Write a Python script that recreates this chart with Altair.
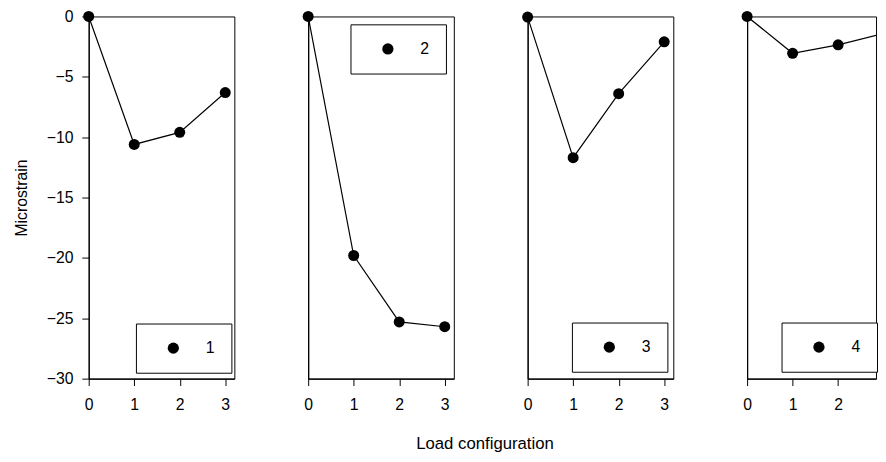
import altair as alt
import pandas as pd

load_config = [0, 1, 2, 3]
series_names = ["1", "2", "3", "4"]
strain_1 = [0.0, -10.6, -9.6, -6.3]
strain_2 = [0.0, -19.8, -25.3, -25.7]
strain_3 = [-0.05, -11.7, -6.4, -2.1]
strain_4 = [0.0, -3.05, -2.35, -1.4]
all_series = [strain_1, strain_2, strain_3, strain_4]
y_ticks = [-30, -25, -20, -15, -10, -5, 0]
x_ticks_full = [0, 1, 2, 3]
x_ticks_cut = [0, 1, 2]

# panel geometry (panel 4 is cut by the page edge in the original)
panel_widths = [148, 148, 148, 131]
x_max = [3.2, 3.2, 3.2, 3.2 * 131 / 148]
legend_xy = [(48, 312), (43, 8), (45, 311), (35, 311)]

FONT = "Liberation Sans"

panels = []
for i, (name, vals) in enumerate(zip(series_names, all_series)):
    df = pd.DataFrame({"x": load_config, "y": vals, "series": [name] * len(vals)})
    if i == 0:
        yaxis = alt.Axis(values=y_ticks, title="Microstrain", tickSize=7, labelPadding=9,
                         titlePadding=17, titleFontSize=16, titleFontWeight="normal",
                         labelFontSize=16)
    else:
        yaxis = alt.Axis(values=y_ticks, title=None, labels=False, ticks=False)
    xaxis = alt.Axis(values=x_ticks_full if i < 3 else x_ticks_cut, title=None,
                     tickSize=7, labelPadding=11, labelFlush=False, labelFontSize=16)
    xenc = alt.X("x:Q", scale=alt.Scale(domain=[0, x_max[i]], nice=False, zero=False), axis=xaxis)
    yenc = alt.Y("y:Q", scale=alt.Scale(domain=[-30, 0], nice=False), axis=yaxis)
    legend = alt.Legend(title=None, orient="none",
                        legendX=legend_xy[i][0], legendY=legend_xy[i][1],
                        padding=17, symbolSize=130, symbolType="circle",
                        symbolOffset=13, labelOffset=25,
                        labelFontSize=16, strokeColor="black", fillColor="white")
    color = alt.Color("series:N", scale=alt.Scale(range=["black"]), legend=legend)
    base = alt.Chart(df)
    if i < 3:
        line = base.mark_line(color="black", strokeWidth=1.2).encode(x=xenc, y=yenc)
        pts = base.mark_circle(size=125, opacity=1).encode(x=xenc, y=yenc, color=color)
        layers = [line, pts]
    else:
        line = base.mark_line(color="black", strokeWidth=1.2, clip=True).encode(x=xenc, y=yenc)
        pts = base.mark_circle(size=125, opacity=1).encode(x=xenc, y=yenc, color=color
              ).transform_filter(alt.datum.x <= 2)
        pts_edge = base.mark_circle(size=125, opacity=1, clip=True, color="black").encode(
            x=xenc, y=yenc).transform_filter(alt.datum.x > 2)
        layers = [line, pts, pts_edge]
    panels.append(alt.layer(*layers).properties(width=panel_widths[i], height=368))

chart = alt.hconcat(*panels, spacing=67).resolve_scale(color="independent").properties(
    padding={"left": 5, "top": -4, "right": 0, "bottom": 0},
    title=alt.TitleParams("Load configuration", orient="bottom", anchor="middle",
                          fontSize=17, fontWeight="normal", font=FONT, offset=24, dx=40)
).configure(font=FONT).configure_axis(
    domainColor="black", tickColor="black", labelColor="black", titleColor="black",
    grid=False, labelFont=FONT, titleFont=FONT, domainWidth=1.2
).configure_view(stroke="black", strokeWidth=1).configure_legend(
    labelFont=FONT, labelColor="black", strokeWidth=1
)

chart.save("out.html", embed_options={"renderer": "svg", "actions": False})
